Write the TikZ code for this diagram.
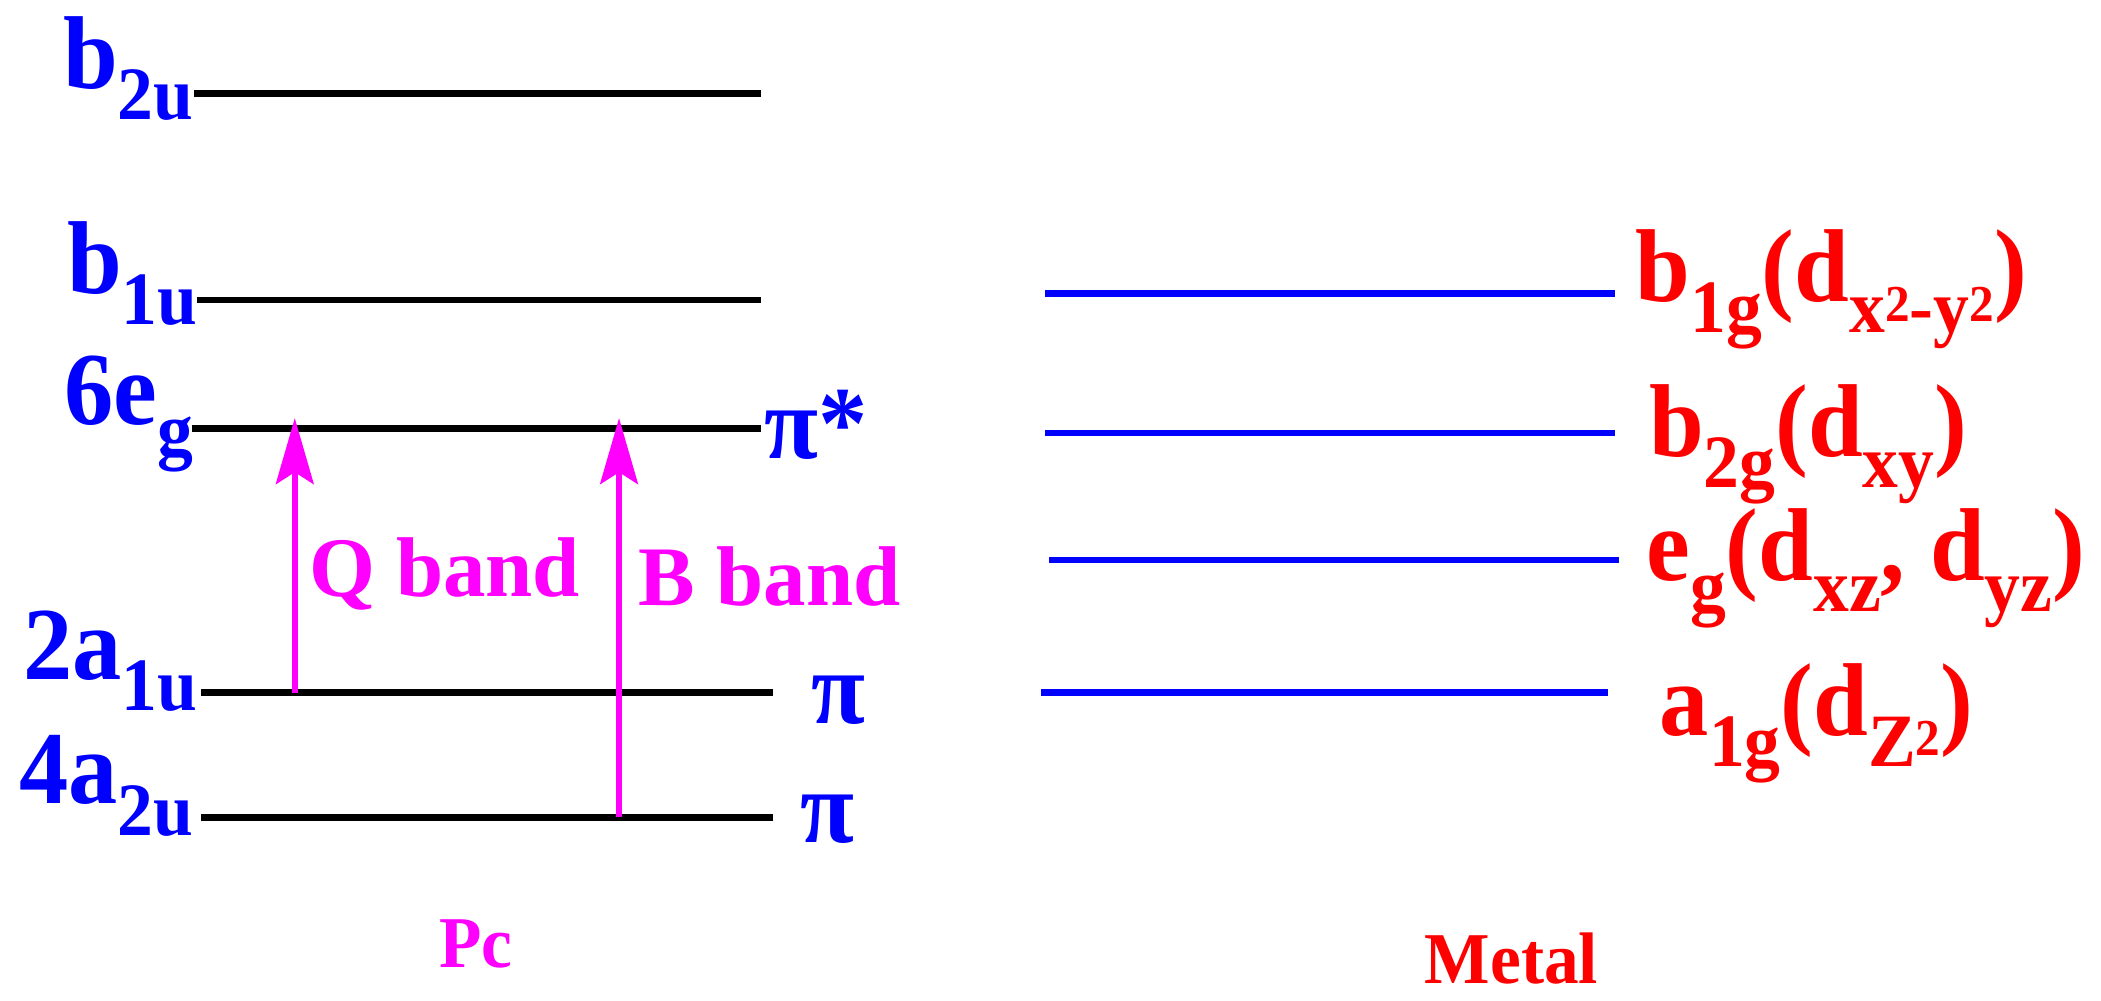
\documentclass[tikz,border=0pt]{standalone}
\usepackage{fontspec}
\setmainfont{Liberation Serif}
\newfontfamily\lblfont[FakeStretch=0.95]{Liberation Serif}
\usetikzlibrary{arrows.meta}

\definecolor{lvlblue}{RGB}{0,0,255}
\definecolor{orbred}{RGB}{255,0,0}
\definecolor{bandpink}{RGB}{255,0,255}
% lowered subscript and small raised index
\newcommand{\lo}[1]{\raisebox{-0.3em}{\fontsize{16}{16}\selectfont #1}}
\newcommand{\hi}[1]{\raisebox{0.15em}{\fontsize{11}{11}\selectfont #1}}

\begin{document}
\begin{tikzpicture}[auto,
    pclevel/.style={black,line width=1.4pt},
    mlevel/.style={lvlblue,line width=1.4pt},
    pclabel/.style={lvlblue,inner sep=0pt,font=\lblfont\fontsize{22}{22}\selectfont\bfseries},
    orblabel/.style={orbred,inner sep=0pt,font=\lblfont\fontsize{22}{22}\selectfont\bfseries},
    bandlabel/.style={bandpink,inner sep=0pt,font=\fontsize{18}{18}\selectfont\bfseries},
    band/.style={bandpink,line width=1.3pt,-{Stealth[length=14pt,width=8pt,inset=2.5pt]}}]
        \useasboundingbox (0,0) rectangle (15.68,7.47);
        % Pc levels
        \coordinate (b2uL) at (1.45,6.77);  \coordinate (b2uR) at (5.68,6.77);
        \coordinate (b1uL) at (1.47,5.23);  \coordinate (b1uR) at (5.68,5.23);
        \coordinate (egL) at (1.43,4.27);   \coordinate (egR) at (5.68,4.27);
        \coordinate (a1uL) at (1.50,2.30);  \coordinate (a1uR) at (5.77,2.30);
        \coordinate (a2uL) at (1.50,1.37);  \coordinate (a2uR) at (5.77,1.37);
        % metal levels
        \coordinate (b1gL) at (7.80,5.28);  \coordinate (b1gR) at (12.05,5.28);
        \coordinate (b2gL) at (7.80,4.24);  \coordinate (b2gR) at (12.05,4.24);
        \coordinate (megL) at (7.83,3.29);  \coordinate (megR) at (12.08,3.29);
        \coordinate (a1gL) at (7.77,2.30);  \coordinate (a1gR) at (12.00,2.30);
        \path[pclevel]
          (b2uL) edge (b2uR)
          (b1uL) edge (b1uR)
          (egL) edge (egR)
          (a1uL) edge (a1uR)
          (a2uL) edge (a2uR)
          ;
        \path[mlevel]
          (b1gL) edge (b1gR)
          (b2gL) edge (b2gR)
          (megL) edge (megR)
          (a1gL) edge (a1gR)
          ;
        % transitions
        \coordinate (qlo) at (2.20,2.30);  \coordinate (qhi) at (2.20,4.35);
        \coordinate (blo) at (4.62,1.37);  \coordinate (bhi) at (4.62,4.35);
        \path[band]
          (qlo) edge (qhi)
          (blo) edge (bhi)
          ;
        \node[bandlabel,anchor=base west] (qband) at (2.30,3.02) {Q band};
        \node[bandlabel,anchor=base west] (bband) at (4.76,2.95) {B band};
        % Pc labels
        \node[pclabel,anchor=base east] (b2u) at (1.45,6.81) {b\lo{2u}};
        \node[pclabel,anchor=base east] (b1u) at (1.48,5.28) {b\lo{1u}};
        \node[pclabel,anchor=base east] (eg6) at (1.45,4.30) {6e\lo{g}};
        \node[pclabel,anchor=base east] (a1u) at (1.48,2.40) {2a\lo{1u}};
        \node[pclabel,anchor=base east] (a2u) at (1.45,1.47) {4a\lo{2u}};
        \node[pclabel,anchor=base west] (pistar) at (5.70,4.05) {π*};
        \node[pclabel,anchor=base west] (pi1) at (6.05,2.07) {π};
        \node[pclabel,anchor=base west] (pi2) at (5.97,1.18) {π};
        % metal labels
        \node[orblabel,anchor=base west] (b1g) at (12.20,5.22) {b\lo{1g}(d\lo{x\hi{2}-y\hi{2}})};
        \node[orblabel,anchor=base west] (b2g) at (12.30,4.06) {b\lo{2g}(d\lo{xy})};
        \node[orblabel,anchor=base west] (meg) at (12.28,3.14) {e\lo{g}(d\lo{xz}, d\lo{yz})};
        \node[orblabel,anchor=base west] (a1g) at (12.38,1.98) {a\lo{1g}(d\lo{Z\hi{2}})};
        % columns
        \node[bandpink,inner sep=0pt,anchor=base,font=\lblfont\fontsize{15.5}{15.5}\selectfont\bfseries] (pc) at (3.55,0.25) {Pc};
        \node[orbred,inner sep=0pt,anchor=base,font=\lblfont\fontsize{15.5}{15.5}\selectfont\bfseries] (metal) at (11.28,0.13) {Metal};
      \end{tikzpicture}
\end{document}
